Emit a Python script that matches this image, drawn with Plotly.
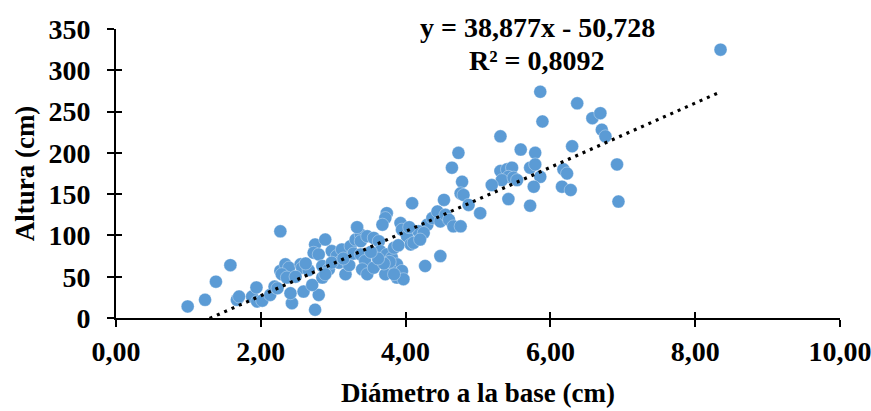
import plotly.graph_objects as go

# Diámetro a la base (cm)
diametro = [0.99, 1.23, 1.38, 1.58, 1.67, 1.70, 1.88, 1.94, 1.95, 2.02, 2.13, 2.19,
            2.27, 2.27, 2.23, 2.34, 2.39, 2.55, 2.57, 2.29, 2.36, 2.48, 2.43, 2.41,
            2.75, 2.80, 2.59, 2.71, 2.85, 2.75, 2.89, 2.73, 2.80, 2.98, 3.05, 3.12,
            3.08, 3.17, 3.24, 3.31, 3.38, 2.85, 2.94, 2.89, 2.98, 3.33, 3.22, 3.28,
            4.09, 4.53, 3.74, 3.72, 3.68, 3.93, 3.95, 4.02, 4.07, 4.11, 4.30, 4.37,
            4.44, 4.48, 4.55, 4.18, 4.25, 4.48, 4.27, 4.20, 3.38, 3.47, 3.56, 3.63,
            3.38, 3.44, 3.40, 3.47, 3.56, 3.65, 3.74, 3.81, 3.88, 3.79, 3.72, 3.88,
            3.95, 3.97, 3.84, 5.31, 4.73, 4.64, 5.59, 5.79, 4.78, 4.76, 4.80, 5.31,
            5.40, 5.47, 5.42, 5.33, 5.49, 5.54, 5.19, 5.42, 5.72, 5.72, 5.79, 5.86,
            5.77, 6.18, 6.16, 4.60, 4.66, 4.76, 4.87, 5.03, 5.86, 6.37, 6.58, 6.69,
            6.71, 6.76, 5.89, 6.30, 6.23, 6.28, 6.92, 6.94, 8.35,
            3.78, 3.84, 3.70, 3.62, 3.52, 3.90, 4.05, 3.14, 2.66, 2.62]
# Altura (cm)
altura = [14, 22, 44, 64, 22, 26, 26, 37, 20, 21, 28, 38,
          105, 57, 36, 65, 61, 65, 61, 53, 49, 50, 18, 30,
          10, 28, 32, 40, 49, 89, 95, 79, 77, 81, 75, 83,
          67, 53, 87, 95, 101, 63, 59, 53, 67, 110, 64, 78,
          139, 143, 127, 121, 113, 115, 107, 99, 89, 91, 113, 121,
          129, 117, 125, 105, 103, 75, 63, 95, 93, 99, 97, 93,
          77, 69, 59, 53, 61, 81, 77, 73, 65, 59, 53, 49,
          57, 47, 53, 220, 200, 182, 204, 200, 165, 151, 149, 178,
          180, 182, 171, 167, 170, 167, 161, 144, 136, 182, 186, 171,
          159, 180, 159, 119, 111, 111, 137, 127, 274, 260, 242, 248,
          228, 220, 238, 208, 175, 155, 186, 141, 325,
          68, 85, 66, 72, 80, 88, 110, 72, 58, 66]

# Linear trendline reported on the chart
slope = 38.877
intercept = -50.728
r2 = 0.8092

x_ticks = [0, 2, 4, 6, 8, 10]
y_ticks = [0, 50, 100, 150, 200, 250, 300, 350]

FONT = "Liberation Serif"
FS_TICK = 28
FS_TITLE = 27
FS_EQ = 28

x_min, x_max = min(diametro), max(diametro)
trend_x = [x_min, x_max]
trend_y = [slope * v + intercept for v in trend_x]

fig = go.Figure()
fig.add_trace(go.Scatter(
    x=diametro, y=altura, mode="markers",
    marker=dict(color="#5B9BD5", size=13,
                line=dict(color="rgba(255,255,255,0.55)", width=0.6)),
    showlegend=False, hoverinfo="skip"))
fig.add_trace(go.Scatter(
    x=trend_x, y=trend_y, mode="lines",
    line=dict(color="black", width=3.2, dash="3px,5px"),
    showlegend=False, hoverinfo="skip"))

axis_common = dict(showgrid=False, zeroline=False, showline=True,
                   linecolor="black", linewidth=2, ticks="outside",
                   tickcolor="black", tickwidth=2, ticklen=7, automargin=False,
                   ticklabeloverflow="allow")

fig.update_layout(
    width=871, height=411,
    margin=dict(l=116, r=31, t=29, b=93),
    paper_bgcolor="white", plot_bgcolor="white",
    separators=",.",
    font=dict(family=FONT, size=FS_TICK, color="black", weight="bold"),
    xaxis=dict(range=[0, 10], tickvals=x_ticks, tickformat=".2f",
               tickfont=dict(family=FONT, size=FS_TICK, weight="bold"),
               title=dict(text="Diámetro a la base (cm)",
                          font=dict(family=FONT, size=FS_TITLE, weight="bold"),
                          standoff=18),
               **axis_common),
    yaxis=dict(range=[0, 350], tickvals=y_ticks,
               tickfont=dict(family=FONT, size=FS_TICK, weight="bold"),
               ticklabelstandoff=11,
               title=dict(text="Altura (cm)",
                          font=dict(family=FONT, size=FS_TITLE, weight="bold"),
                          standoff=6),
               **axis_common),
    xaxis2=dict(overlaying="x", matches="x", range=[0, 10], tickvals=x_ticks,
                showticklabels=False, showgrid=False, zeroline=False,
                ticks="inside", ticklen=6, tickwidth=2, tickcolor="black",
                showline=False, side="bottom", anchor="y", automargin=False),
    yaxis2=dict(overlaying="y", matches="y", range=[0, 350], tickvals=y_ticks,
                showticklabels=False, showgrid=False, zeroline=False,
                ticks="inside", ticklen=6, tickwidth=2, tickcolor="black",
                showline=False, side="left", anchor="x", automargin=False),
)

# dummy trace to activate the inner-tick overlay axes
fig.add_trace(go.Scatter(x=[None], y=[None], xaxis="x2", yaxis="y2",
                         showlegend=False, hoverinfo="skip"))

eq_text = "y = {}x - {}".format(f"{slope:.3f}".replace(".", ","),
                                 f"{abs(intercept):.3f}".replace(".", ","))
r2_text = "R² = {}".format(f"{r2:.4f}".replace(".", ","))
fig.add_annotation(text=eq_text, xref="paper", yref="paper",
                   x=(537 - 116) / 724, y=(318.5 - 27) / 289.5, showarrow=False,
                   xanchor="center", yanchor="middle",
                   font=dict(family=FONT, size=FS_EQ, weight="bold"))
fig.add_annotation(text=r2_text, xref="paper", yref="paper",
                   x=(537 - 116) / 724, y=(318.5 - 61) / 289.5, showarrow=False,
                   xanchor="center", yanchor="middle",
                   font=dict(family=FONT, size=FS_EQ, weight="bold"))

fig.write_html("out.html")
